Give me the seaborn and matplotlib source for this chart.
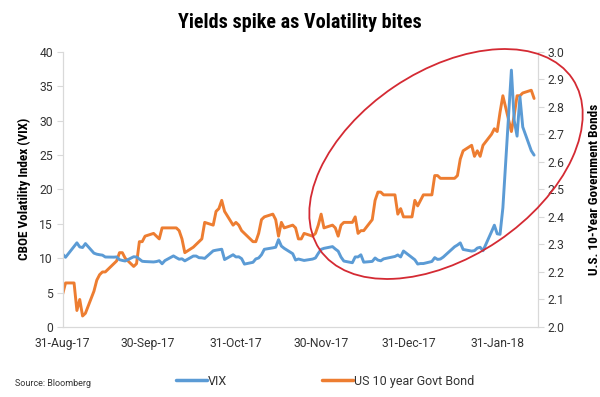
import pandas as pd
import seaborn as sns
import matplotlib
matplotlib.use("Agg")
import matplotlib.pyplot as plt
from matplotlib import font_manager as fm
from matplotlib.lines import Line2D
from matplotlib.patches import Ellipse

# weekdays from 31-Aug-17 to 13-Feb-18 (holidays: VIX missing, yields carried)
days = pd.bdate_range("2017-08-31", "2018-02-13")

vix = [10.59,
       10.13, None, 12.23, 11.63, 11.55, 12.12, 10.73, 10.58, 10.50, 10.44, 10.17,
       10.15, 10.18, 9.78, 9.67, 9.59, 10.21, 10.17, 9.87, 9.55, 9.51,
       9.45, 9.51, 9.63, 9.19, 9.65, 10.33, 10.08, 9.85, 9.91, 9.61, 10.31,
       10.31, 10.07, 10.05, 9.97, 11.07, 11.16, 11.23, 11.30, 9.80, 10.50, 10.18,
       10.20, 9.93, 9.14, 9.40, 9.89, 10.03, 10.50, 11.29, 11.50, 11.59, 12.70,
       11.76, 11.43, 10.65, 9.73, 9.88, None, 9.67, 9.87, 10.03, 10.70, 11.28,
       11.43, 11.68, 11.33, 11.02, 10.16, 9.58, 9.34, 10.18, 10.18, 10.49, 9.42,
       9.53, 10.03, 9.72, 9.62, 9.90, None, 10.25, 10.47, 10.18, 11.04,
       None, 9.77, 9.15, 9.22, 9.22, 9.52, 10.08, 9.82, 9.88, 10.16, None,
       11.66, 11.91, 12.22, 11.27, 11.03, 11.10, 11.47, 11.58, 11.08, 13.84, 14.79, 13.54,
       13.47, 17.31, 37.32, 29.98, 27.73, 33.46, 29.06, 25.61, 24.97]

us10y = [2.12,
         2.16, 2.16, 2.06, 2.10, 2.04, 2.05, 2.13, 2.17, 2.19, 2.20, 2.20,
         2.23, 2.24, 2.27, 2.27, 2.25, 2.22, 2.23, 2.31, 2.31, 2.33,
         2.34, 2.33, 2.32, 2.36, 2.36, 2.36, 2.36, 2.35, 2.32, 2.27, 2.29,
         2.30, 2.31, 2.32, 2.38, 2.37, 2.42, 2.43, 2.46, 2.42, 2.37, 2.38,
         2.37, 2.35, 2.34, 2.31, 2.31, 2.34, 2.39, 2.40, 2.41, 2.39, 2.33,
         2.38, 2.36, 2.37, 2.36, 2.32, 2.32, 2.34, 2.33, 2.34, 2.37, 2.41,
         2.36, 2.37, 2.36, 2.33, 2.37, 2.38, 2.38, 2.40, 2.34, 2.35, 2.35,
         2.39, 2.46, 2.49, 2.49, 2.48, 2.48, 2.48, 2.41, 2.43, 2.40,
         2.40, 2.46, 2.44, 2.46, 2.48, 2.48, 2.55, 2.55, 2.54, 2.54, 2.54,
         2.54, 2.55, 2.61, 2.64, 2.66, 2.62, 2.64, 2.62, 2.66, 2.70, 2.72, 2.71,
         2.78, 2.84, 2.71, 2.77, 2.84, 2.84, 2.85, 2.86, 2.83]

month_ticks = ["2017-08-31", "2017-09-30", "2017-10-31", "2017-11-30", "2017-12-31", "2018-01-31"]
month_labels = ["31-Aug-17", "30-Sep-17", "31-Oct-17", "30-Nov-17", "31-Dec-17", "31-Jan-18"]

df = pd.DataFrame({"date": days, "VIX": vix, "US 10 year Govt Bond": us10y})

blue = "#5b9bd5"
orange = "#ed7d31"
grey = "#d9d9d9"
txt = "#333333"

sns.set_theme(style="white")
plt.rcParams["font.family"] = ["Roboto", "DejaVu Sans"]

names = {f.name for f in fm.fontManager.ttflist}
cond = None
for n in ["Roboto Condensed", "Liberation Sans Narrow", "Open Sans Condensed"]:
    if n in names:
        cond = n
        break

fig = plt.figure(figsize=(6, 3.97), dpi=100)
ax = fig.add_axes([0.1045, 0.1763, 0.792, 0.6935])
ax2 = ax.twinx()

sns.lineplot(data=df.dropna(subset=["VIX"]), x="date", y="VIX", ax=ax,
             color=blue, linewidth=2.1)
sns.lineplot(data=df, x="date", y="US 10 year Govt Bond", ax=ax2,
             color=orange, linewidth=2.1)

ax.set_xlim(pd.Timestamp("2017-08-31"), pd.Timestamp("2018-02-14 08:00"))
ax.set_ylim(0, 40)
ax2.set_ylim(2.0, 3.0)
ax.set_yticks(range(0, 41, 5))
ax2.set_yticks([2.0 + i / 10 for i in range(11)])
ax2.set_yticklabels([f"{2.0 + i / 10:.1f}" for i in range(11)])
ax.set_xticks(pd.to_datetime(month_ticks))
ax.set_xticklabels(month_labels)

lab_font = {"family": [cond, "Roboto"] if cond else ["Roboto"], "weight": "bold"}
lab_size = 9.5 if cond else 8
ax.set_xlabel("")
ax.set_ylabel("CBOE Volatility Index (VIX)", fontdict=lab_font, fontsize=lab_size,
              color="black", labelpad=6)
ax2.set_ylabel("U.S. 10-Year Government Bonds", fontdict=lab_font, fontsize=lab_size,
               color="black", labelpad=17)

for a in (ax, ax2):
    a.grid(False)
    a.tick_params(labelsize=8.7, colors=txt, length=4, width=0.8, pad=3)
    a.tick_params(axis="both", color=grey)
    for side, sp in a.spines.items():
        sp.set_color(grey)
        sp.set_linewidth(0.8)
    a.spines["top"].set_visible(False)

ax.set_zorder(ax2.get_zorder() + 1)
ax.patch.set_visible(False)

title_font = [cond, "Roboto"] if cond else ["Roboto"]
fig.text(0.5, 0.943, "Yields spike as Volatility bites", ha="center", va="center",
         family=title_font, fontweight="bold", fontsize=14.5 if cond else 12.5, color="black")

# red ellipse highlighting the recent spike
ell = Ellipse((4.46, 2.33), 3.05, 1.86, angle=34, transform=fig.dpi_scale_trans,
              fill=False, edgecolor="#d42a33", linewidth=1.3, clip_on=False, zorder=10)
ax.add_patch(ell)

handles = [Line2D([], [], color=blue, lw=2.5, label="VIX"),
           Line2D([], [], color=orange, lw=2.5, label="US 10 year Govt Bond")]
fig.legend(handles=handles, loc="center", bbox_to_anchor=(0.542, 0.04), ncol=2,
           frameon=False, fontsize=9, handlelength=2.5, handletextpad=0.05,
           columnspacing=7.6, labelcolor=txt)

fig.text(0.025, 0.035, "Source: Bloomberg", fontsize=6.5, color=txt, va="center")

fig.savefig("out.png", dpi=100)
